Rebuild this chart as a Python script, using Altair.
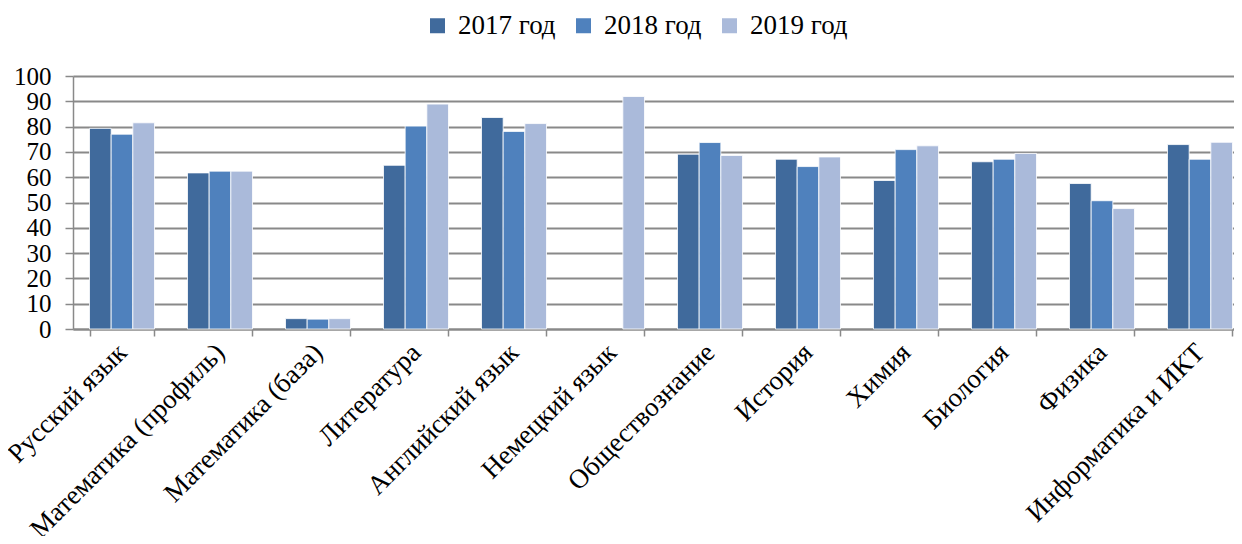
import altair as alt
import pandas as pd

subjects = ["Русский язык", "Математика (профиль)", "Математика (база)", "Литература",
            "Английский язык", "Немецкий язык", "Обществознание", "История",
            "Химия", "Биология", "Физика", "Информатика и ИКТ"]
years = ["2017 год", "2018 год", "2019 год"]
v2017 = [79.3, 61.7, 4.1, 64.7, 83.6, None, 69.1, 67.1, 58.7, 66.1, 57.5, 72.9]
v2018 = [77.0, 62.4, 3.9, 80.2, 78.1, None, 73.7, 64.2, 70.9, 67.1, 50.7, 67.1]
v2019 = [81.5, 62.4, 4.1, 88.9, 81.2, 91.9, 68.6, 68.0, 72.4, 69.4, 47.6, 73.8]
colors = ["#406A9C", "#4F81BD", "#AABADA"]

rows = []
for yr, vals in zip(years, [v2017, v2018, v2019]):
    for s, v in zip(subjects, vals):
        if v is not None:
            rows.append({"subject": s, "year": yr, "value": v})
df = pd.DataFrame(rows)

FONT = "Times New Roman, Liberation Serif, DejaVu Serif, serif"

chart = alt.Chart(df).mark_bar(stroke="white", strokeWidth=0.8).encode(
    x=alt.X("subject:N", sort=subjects,
            scale=alt.Scale(paddingInner=0.337, paddingOuter=0.1685),
            axis=alt.Axis(title=None, labelAngle=-45, labelAlign="right",
                          labelBaseline="middle", labelFont=FONT, labelFontSize=27,
                          labelColor="black", labelPadding=12, labelLimit=400,
                          tickBand="extent", tickSize=7, tickColor="#898989",
                          tickWidth=1.5, domainColor="#898989", domainWidth=2,
                          grid=False, labelOverlap=False)),
    xOffset=alt.XOffset("year:N", sort=years, scale=alt.Scale(paddingInner=0, paddingOuter=0)),
    y=alt.Y("value:Q", scale=alt.Scale(domain=[0, 100], nice=False),
            axis=alt.Axis(title=None, values=list(range(0, 101, 10)),
                          labelFont=FONT, labelFontSize=25, labelColor="black",
                          labelPadding=14, tickSize=8, tickColor="#898989",
                          tickWidth=1.5, domainColor="#898989", domainWidth=1.5,
                          gridColor="#898989", gridWidth=1.8, gridOpacity=1)),
    color=alt.Color("year:N", sort=years,
                    scale=alt.Scale(domain=years, range=colors),
                    legend=alt.Legend(title=None, orient="none", direction="horizontal",
                                      legendX=351, legendY=-64, symbolType="square",
                                      symbolSize=225, symbolStrokeWidth=0,
                                      labelFont=FONT, labelFontSize=27,
                                      labelColor="black", labelOffset=7,
                                      columnPadding=14)),
).properties(
    width=1176, height=253,
    autosize=alt.AutoSizeParams(type="none"),
    padding={"left": 65, "top": 68, "right": -15, "bottom": 207},
).configure_view(stroke=None)

chart.save("out.html", embed_options={"renderer": "svg", "actions": False})
